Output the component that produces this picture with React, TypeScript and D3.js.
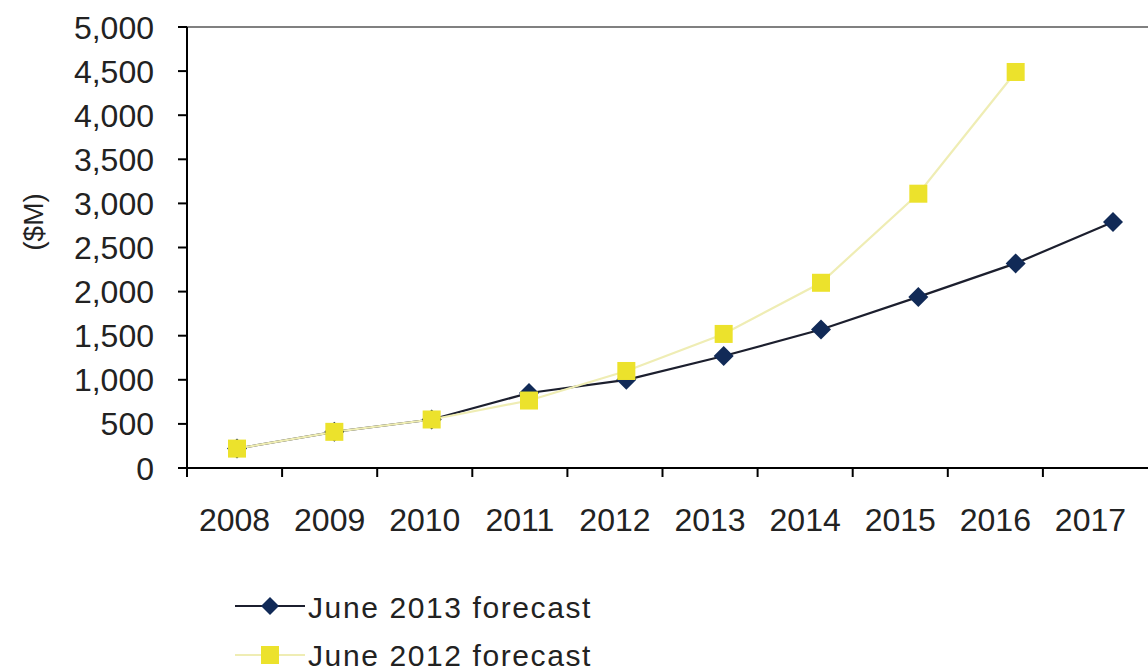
import React from "react";
import * as d3 from "d3";

const years = ["2008", "2009", "2010", "2011", "2012", "2013", "2014", "2015", "2016", "2017"];
const june2013 = [220, 410, 550, 850, 1000, 1270, 1570, 1940, 2320, 2790];
const june2012 = [220, 410, 550, 765, 1100, 1520, 2100, 3110, 4490];
const yTicks = [0, 500, 1000, 1500, 2000, 2500, 3000, 3500, 4000, 4500, 5000];
const seriesNames = ["June 2013 forecast", "June 2012 forecast"];

const W = 1148;
const H = 672;
const FONT = "'Liberation Sans', Arial, sans-serif";

export default function App() {
  const left = 187;
  const right = 1148;
  const top = 27;
  const bottom = 468;

  const y = d3.scaleLinear().domain([0, 5000]).range([bottom, top]);
  const xAxis = d3.scaleBand<string>().domain(years).range([left, 1138]);
  const xPts = d3.scalePoint<string>().domain(years).range([237, 1113]);

  const line = d3
    .line<number>()
    .x((_, i) => xPts(years[i]) as number)
    .y((d) => y(d));

  const navy = "#112a57";
  const yellow = "#ece22c";
  const yellowLine = "#efedb4";

  const diamond = (cx: number, cy: number, r: number) =>
    `M${cx},${cy - r}L${cx + r},${cy}L${cx},${cy + r}L${cx - r},${cy}Z`;

  const tickXs = years.map((yr) => xAxis(yr) as number);

  return (
    <svg
      width={W}
      height={H}
      style={{ position: "absolute", left: 0, top: 0, background: "#fff" }}
      fontFamily={FONT}
    >
      {/* top border */}
      <line x1={left} x2={right} y1={top} y2={top} stroke="#808080" strokeWidth={2} />
      {/* y axis */}
      <line x1={left} x2={left} y1={top} y2={bottom} stroke="#000" strokeWidth={2} />
      {yTicks.map((t) => (
        <g key={t}>
          <line x1={left - 9} x2={left} y1={y(t)} y2={y(t)} stroke="#000" strokeWidth={2} />
          <text
            x={154}
            y={y(t)}
            dy="0.36em"
            textAnchor="end"
            fontSize={32}
            fill="#222"
          >
            {d3.format(",")(t)}
          </text>
        </g>
      ))}
      {/* x axis */}
      <line x1={left} x2={right} y1={bottom} y2={bottom} stroke="#000" strokeWidth={2} />
      {tickXs.map((tx, i) => (
        <line key={i} x1={tx} x2={tx} y1={bottom} y2={bottom + 9} stroke="#000" strokeWidth={2} />
      ))}
      {years.map((yr) => (
        <text
          key={yr}
          x={(xAxis(yr) as number) + xAxis.bandwidth() / 2}
          y={531}
          textAnchor="middle"
          fontSize={32}
          fill="#222"
        >
          {yr}
        </text>
      ))}
      {/* y label */}
      <text
        transform={`translate(43,222) rotate(-90)`}
        textAnchor="middle"
        fontSize={28}
        fill="#222"
      >
        ($M)
      </text>

      {/* June 2013 series */}
      <path d={line(june2013) || ""} fill="none" stroke="#1c1f2e" strokeWidth={2.2} />
      {/* June 2012 series */}
      <path d={line(june2012) || ""} fill="none" stroke={yellowLine} strokeWidth={2.2} />
      {june2013.map((v, i) => (
        <path key={"d" + i} d={diamond(xPts(years[i]) as number, y(v), 10)} fill={navy} />
      ))}
      {june2012.map((v, i) => (
        <rect
          key={"s" + i}
          x={(xPts(years[i]) as number) - 9}
          y={y(v) - 9}
          width={18}
          height={18}
          fill={yellow}
        />
      ))}

      {/* legend */}
      <g>
        <line x1={235} x2={305} y1={606} y2={606} stroke="#1c1f2e" strokeWidth={2} />
        <path d={diamond(270, 606, 9)} fill={navy} />
        <text x={308} y={618} fontSize={30} letterSpacing={1.6} fill="#222">
          {seriesNames[0]}
        </text>
        <line x1={235} x2={305} y1={655} y2={655} stroke={yellowLine} strokeWidth={2} />
        <rect x={261} y={646} width={18} height={18} fill={yellow} />
        <text x={308} y={666} fontSize={30} letterSpacing={1.6} fill="#222">
          {seriesNames[1]}
        </text>
      </g>
    </svg>
  );
}
